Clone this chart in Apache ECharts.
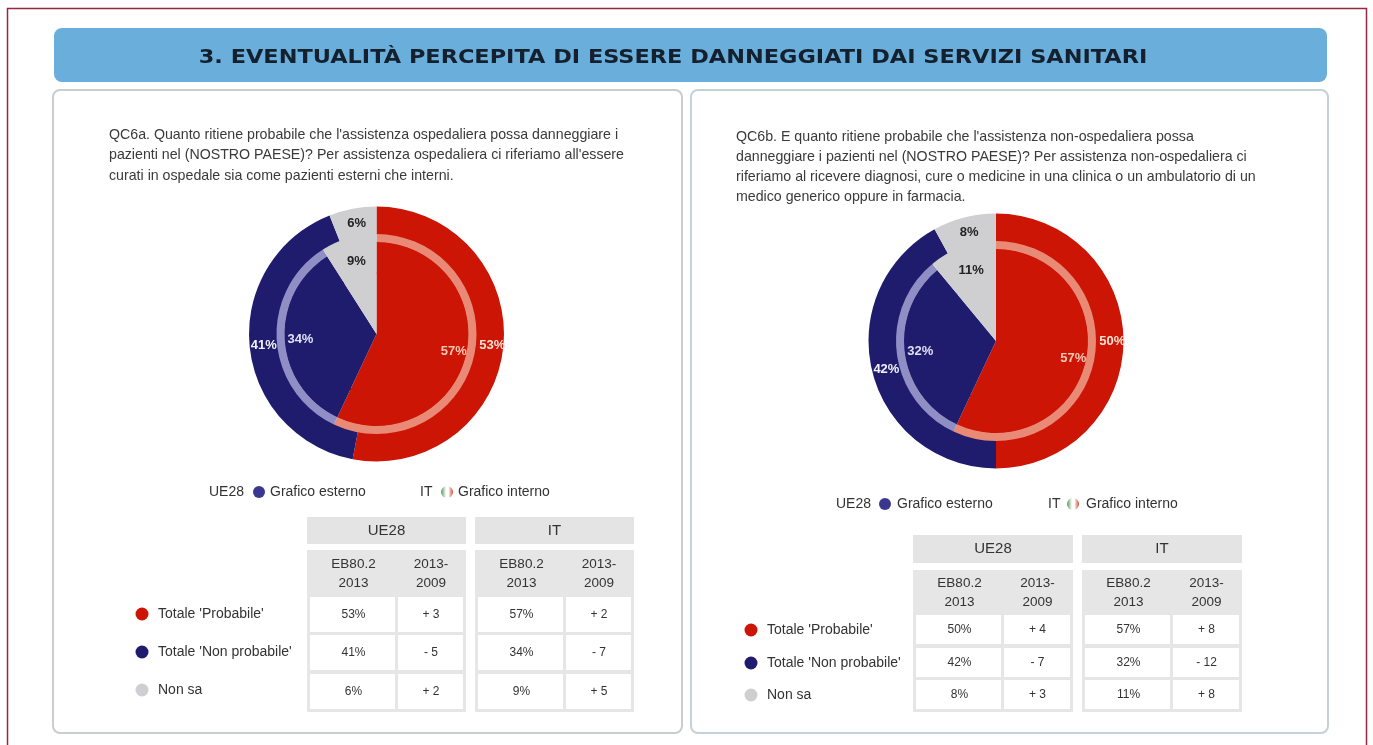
<!DOCTYPE html>
<html lang="it">
<head>
<meta charset="utf-8">
<title>Eventualità percepita</title>
<style>
html,body{margin:0;padding:0;background:#fff;overflow:hidden}
#chart{width:1373px;height:745px}
</style>
<script src="https://cdn.jsdelivr.net/npm/echarts@6/dist/echarts.min.js"></script>
</head>
<body>
<div id="chart"></div>
<script>
// ---- data ----
const pageTitle = '3. EVENTUALITÀ PERCEPITA DI ESSERE DANNEGGIATI DAI SERVIZI SANITARI';
const categories = ["Totale 'Probabile'", "Totale 'Non probabile'", 'Non sa'];
const questionA = [
  "QC6a. Quanto ritiene probabile che l'assistenza ospedaliera possa danneggiare i",
  "pazienti nel (NOSTRO PAESE)? Per assistenza ospedaliera ci riferiamo all'essere",
  "curati in ospedale sia come pazienti esterni che interni."
];
const questionB = [
  "QC6b. E quanto ritiene probabile che l'assistenza non-ospedaliera possa",
  "danneggiare i pazienti nel (NOSTRO PAESE)? Per assistenza non-ospedaliera ci",
  "riferiamo al ricevere diagnosi, cure o medicine in una clinica o un ambulatorio di un",
  "medico generico oppure in farmacia."
];
const outerA = [53, 41, 6];
const innerA = [57, 34, 9];
const outerB = [50, 42, 8];
const innerB = [57, 32, 11];
const trendUEA = ['+ 3', '- 5', '+ 2'];
const trendITA = ['+ 2', '- 7', '+ 5'];
const trendUEB = ['+ 4', '- 7', '+ 3'];
const trendITB = ['+ 8', '- 12', '+ 8'];
const groupHeads = ['UE28', 'IT'];
const colHeads = ['EB80.2\n2013', '2013-\n2009'];
const legendOuter = ['UE28', 'Grafico esterno'];
const legendInner = ['IT', 'Grafico interno'];

// ---- styles ----
const solid = ['#cc1505', '#1f1c6e', '#cfcfd2'];
const light = ['#e98a76', '#8f8fc6', '#cfcfd2'];
const outerLabel = ['#fbe3d6', '#f2f2fa', '#222222'];
const innerLabel = ['#f9c8b4', '#dfe0f5', '#222222'];
const labelNudge = [[0, 0], [3, 0], [2, 4]];
const TXT = '#333333';
const FONT = '"Liberation Sans", Arial, sans-serif';

function pct(v){ return v + '%'; }
function items(vals, colors, labelColors){
  return vals.map((v, i) => ({
    name: categories[i], value: v,
    itemStyle: {color: colors[i]},
    label: labelColors ? {color: labelColors[i], offset: labelNudge[i]} : undefined
  }));
}
function pieSeries(center, outer, inner){
  const base = {type: 'pie', center, silent: true, animation: false, startAngle: 90, clockwise: true,
    labelLine: {show: false}, emphasis: {disabled: true}};
  const lab = {show: true, position: 'inside', formatter: p => p.value + '%',
    fontFamily: FONT, fontSize: 13, fontWeight: 'bold'};
  return [
    {...base, radius: [99, 127.5], data: items(outer, solid, outerLabel), label: lab, z: 2},
    {...base, radius: [0, 62], data: items(inner, solid), label: {show: false}, z: 3},
    {...base, radius: [60, 92.5], data: items(inner, solid, innerLabel), label: lab, z: 4},
    {...base, radius: [92, 100], data: items(inner, light), label: {show: false}, z: 5}
  ];
}
function text(x, y, s, o, extra){
  return Object.assign({type: 'text', x, y, silent: true, z: 20, style: Object.assign({
    text: s, fill: TXT, fontFamily: FONT, fontSize: 14, textAlign: 'left', textVerticalAlign: 'middle'
  }, o || {})}, extra || {});
}
function rect(x, y, w, h, fill, o){
  return Object.assign({type: 'rect', silent: true, z: 10, shape: {x, y, width: w, height: h},
    style: {fill}}, o || {});
}
function dot(cx, cy, r, fill){
  return {type: 'circle', silent: true, z: 20, shape: {cx, cy, r}, style: {fill}};
}
const flagFill = new echarts.graphic.LinearGradient(0, 0, 1, 0, [
  {offset: 0, color: '#4f9a5f'}, {offset: .3, color: '#cfe0cf'}, {offset: .42, color: '#ffffff'},
  {offset: .62, color: '#ffffff'}, {offset: .75, color: '#f0c0b0'}, {offset: 1, color: '#cf4a35'}
]);

function panel(p){
  const g = [];
  g.push(rect(p.x, 90, p.w, 643, '#ffffff', {shape: {x: p.x, y: 90, width: p.w, height: 643, r: 7},
    style: {fill: '#ffffff', stroke: p.stroke, lineWidth: 2}, z: 1}));
  p.q.forEach((l, i) => g.push(text(p.qx, p.qy + i * p.qdy, l, {fontSize: 14.2, fill: '#3a3a3a'})));
  // small legend under the pie
  g.push(text(p.leg[0], p.legy, legendOuter[0]));
  g.push(dot(p.leg[1], p.legy, 6, '#3a3790'));
  g.push(text(p.leg[2], p.legy, legendOuter[1]));
  g.push(text(p.leg[3], p.legy, legendInner[0]));
  g.push(dot(p.leg[4], p.legy, 6, flagFill));
  g.push(text(p.leg[5], p.legy, legendInner[1]));
  // row legend
  categories.forEach((c, i) => {
    g.push(dot(p.rowDot, p.rowY[i], 6.5, solid[i]));
    g.push(text(p.rowDot + 16, p.rowY[i], c, {fontSize: 14}));
  });
  // table
  [[p.ueX, p.vals[0], p.vals[1]], [p.itX, p.vals[2], p.vals[3]]].forEach((t, k) => {
    const x0 = t[0], W = p.tw, split = 89;
    g.push(rect(x0, p.hy, W, p.hh, '#e4e4e4'));
    g.push(text(x0 + W / 2, p.hy + p.hh / 2, groupHeads[k], {textAlign: 'center', fontSize: 15}));
    g.push(rect(x0, p.sy, W, p.bottom - p.sy, '#e6e6e6'));
    g.push(text(x0 + split / 2 + 2, (p.sy + p.cellTop[0]) / 2, colHeads[0], {textAlign: 'center', fontSize: 13.5, lineHeight: 19}));
    g.push(text(x0 + split + (W - split) / 2, (p.sy + p.cellTop[0]) / 2, colHeads[1], {textAlign: 'center', fontSize: 13.5, lineHeight: 19}));
    for (let r = 0; r < 3; r++) {
      const y = p.cellTop[r], h = p.cellH;
      g.push(rect(x0 + 3, y, split - 4, h, '#ffffff', {z: 11}));
      g.push(rect(x0 + split + 2, y, W - split - 5, h, '#ffffff', {z: 11}));
      g.push(text(x0 + split / 2 + 2, y + h / 2, pct(t[1][r]), {textAlign: 'center', fontSize: 12}));
      g.push(text(x0 + split + (W - split) / 2, y + h / 2, t[2][r], {textAlign: 'center', fontSize: 12}));
    }
  });
  return g;
}

const graphic = [
  rect(7.5, 8.5, 1359, 760, '#ffffff', {style: {fill: '#ffffff', stroke: '#98283c', lineWidth: 1.5}, z: 0}),
  rect(54, 28, 1273, 54, '#6aafdc', {shape: {x: 54, y: 28, width: 1273, height: 54, r: 8}, z: 2}),
  text(673, 58.5, pageTitle, {textAlign: 'center', fontFamily: '"DejaVu Sans", sans-serif', fontWeight: 'bold', fontSize: 19, fill: '#15202e'}, {scaleX: 1.18}),
  ...panel({x: 53, w: 629, stroke: '#c9cdcb', q: questionA, qx: 109, qy: 135, qdy: 20.5,
    leg: [209, 259, 270, 420, 447, 458], legy: 492, rowDot: 142, rowY: [614, 652, 690],
    ueX: 307, itX: 475, tw: 159, hy: 517, hh: 27, sy: 550, bottom: 712, cellTop: [597, 635, 674], cellH: 35,
    vals: [outerA, trendUEA, innerA, trendITA]}),
  ...panel({x: 691, w: 637, stroke: '#c2d2d6', q: questionB, qx: 736, qy: 137, qdy: 20,
    leg: [836, 885, 897, 1048, 1073, 1086], legy: 504, rowDot: 751, rowY: [630, 663, 695],
    ueX: 913, itX: 1082, tw: 160, hy: 535, hh: 28, sy: 570, bottom: 712, cellTop: [615, 648, 680], cellH: 29,
    vals: [outerB, trendUEB, innerB, trendITB]})
];

const chart = echarts.init(document.getElementById('chart'), null, {renderer: 'canvas'});
chart.setOption({
  animation: false,
  backgroundColor: '#ffffff',
  graphic: {elements: graphic},
  series: [
    ...pieSeries([376.5, 334], outerA, innerA),
    ...pieSeries([996, 341], outerB, innerB)
  ]
});
</script>
</body>
</html>
